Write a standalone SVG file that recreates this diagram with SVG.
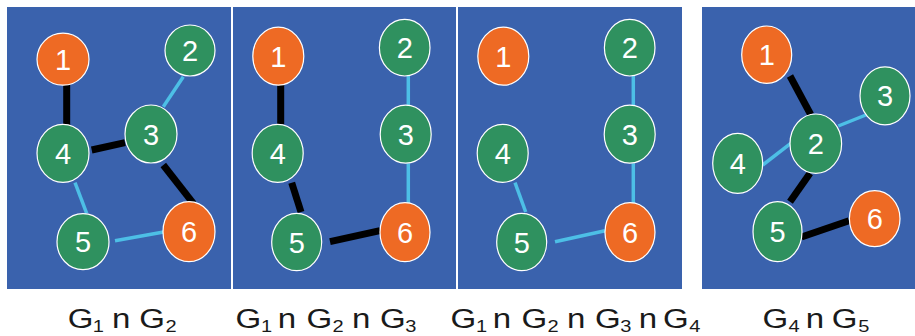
<svg xmlns="http://www.w3.org/2000/svg" width="915" height="336" viewBox="0 0 915 336">
<style>
.panel{fill:#3A62AD}
.o{fill:#EE6A24;stroke:#FFFFFF;stroke-width:1.2}
.g{fill:#2F915F;stroke:#FFFFFF;stroke-width:1.2}
.num{font-family:"Liberation Sans",Arial,sans-serif;font-size:29px;fill:#FFFFFF;text-anchor:middle}
.blk{stroke:#000000;stroke-width:7;fill:none}
.cy{stroke:#4DBFE6;stroke-width:3.5;fill:none}
.lbl{font-family:"Liberation Sans",Arial,sans-serif;font-size:28px;fill:#1A1A1A;text-anchor:middle}
.sub{font-size:17px}
</style>
<rect width="915" height="336" fill="#FFFFFF"/>
<g id="panels">
<rect class="panel" x="7" y="7" width="224" height="282"/>
<rect class="panel" x="233" y="7" width="223" height="282"/>
<rect class="panel" x="458" y="7" width="224" height="282"/>
<rect class="panel" x="702" y="7" width="213" height="282"/>
</g>
<g id="connectors">
<line class="blk" x1="66.7" y1="84" x2="66.7" y2="125"/>
<line class="blk" x1="91.7" y1="150" x2="125" y2="142.7"/>
<line class="blk" x1="163.3" y1="165" x2="193.3" y2="203.3"/>
<line class="cy" x1="183.3" y1="76.7" x2="163.3" y2="106.7"/>
<line class="cy" x1="75" y1="182.7" x2="86.7" y2="213.3"/>
<line class="cy" x1="115" y1="240.7" x2="165" y2="231.7"/>

<line class="blk" x1="280.7" y1="85" x2="280.7" y2="124.5"/>
<line class="blk" x1="291.7" y1="182.7" x2="301" y2="212"/>
<line class="blk" x1="330" y1="241.7" x2="380" y2="230.7"/>
<line class="cy" x1="408.3" y1="76" x2="408.3" y2="105.5"/>
<line class="cy" x1="408.3" y1="163.3" x2="408.3" y2="203.3"/>

<line class="cy" x1="633.3" y1="76" x2="633.3" y2="105.5"/>
<line class="cy" x1="633.3" y1="163.3" x2="633.3" y2="203.3"/>
<line class="cy" x1="515" y1="182.7" x2="525.7" y2="212"/>
<line class="cy" x1="555" y1="241.7" x2="605" y2="230.7"/>

<line class="blk" x1="790" y1="76" x2="810.7" y2="114.5"/>
<line class="blk" x1="810" y1="173.3" x2="790" y2="201.7"/>
<line class="blk" x1="801.5" y1="237" x2="849" y2="220.7"/>
<line class="cy" x1="838.3" y1="126" x2="868.3" y2="114"/>
<line class="cy" x1="762.7" y1="165" x2="791.7" y2="142.7"/>
</g>

<g id="p1-n1"><ellipse class="o" cx="63" cy="59.2" rx="26" ry="26"/><text class="num" x="63" y="69.7">1</text></g>
<g id="p1-n2"><ellipse class="g" cx="190" cy="50.5" rx="25" ry="25.5"/><text class="num" x="190" y="61">2</text></g>
<g id="p1-n3"><ellipse class="g" cx="151" cy="134" rx="26" ry="29"/><text class="num" x="151" y="144.5">3</text></g>
<g id="p1-n4"><ellipse class="g" cx="63" cy="153.3" rx="26" ry="29"/><text class="num" x="63" y="163.8">4</text></g>
<g id="p1-n5"><ellipse class="g" cx="83" cy="241.7" rx="26" ry="28"/><text class="num" x="83" y="252.2">5</text></g>
<g id="p1-n6"><ellipse class="o" cx="189" cy="231.7" rx="26" ry="30"/><text class="num" x="189" y="242.2">6</text></g>

<g id="p2-n1"><ellipse class="o" cx="278.3" cy="56.2" rx="25.5" ry="29"/><text class="num" x="278.3" y="66.7">1</text></g>
<g id="p2-n2"><ellipse class="g" cx="404.7" cy="47.7" rx="25.3" ry="28.3"/><text class="num" x="404.7" y="58.2">2</text></g>
<g id="p2-n3"><ellipse class="g" cx="405.7" cy="134.2" rx="25.5" ry="29"/><text class="num" x="405.7" y="144.7">3</text></g>
<g id="p2-n4"><ellipse class="g" cx="277.7" cy="153.3" rx="25.5" ry="29"/><text class="num" x="277.7" y="163.8">4</text></g>
<g id="p2-n5"><ellipse class="g" cx="296.7" cy="242" rx="25" ry="28.7"/><text class="num" x="296.7" y="252.5">5</text></g>
<g id="p2-n6"><ellipse class="o" cx="405" cy="232.2" rx="25" ry="29.5"/><text class="num" x="405" y="242.7">6</text></g>

<g id="p3-n1"><ellipse class="o" cx="503.3" cy="56.2" rx="25.5" ry="29"/><text class="num" x="503.3" y="66.7">1</text></g>
<g id="p3-n2"><ellipse class="g" cx="629.7" cy="47.7" rx="25.3" ry="28.3"/><text class="num" x="629.7" y="58.2">2</text></g>
<g id="p3-n3"><ellipse class="g" cx="629.7" cy="134.2" rx="25.5" ry="29"/><text class="num" x="629.7" y="144.7">3</text></g>
<g id="p3-n4"><ellipse class="g" cx="502.7" cy="153.3" rx="25.5" ry="29"/><text class="num" x="502.7" y="163.8">4</text></g>
<g id="p3-n5"><ellipse class="g" cx="521.7" cy="242" rx="25" ry="28.7"/><text class="num" x="521.7" y="252.5">5</text></g>
<g id="p3-n6"><ellipse class="o" cx="630" cy="232.2" rx="25" ry="29.5"/><text class="num" x="630" y="242.7">6</text></g>

<g id="p4-n1"><ellipse class="o" cx="766.7" cy="54.7" rx="25" ry="28.7"/><text class="num" x="766.7" y="65.2">1</text></g>
<g id="p4-n2"><ellipse class="g" cx="815.8" cy="143.7" rx="25.8" ry="29.7"/><text class="num" x="815.8" y="154.2">2</text></g>
<g id="p4-n3"><ellipse class="g" cx="885" cy="95.8" rx="25" ry="29"/><text class="num" x="885" y="106.3">3</text></g>
<g id="p4-n4"><ellipse class="g" cx="737.7" cy="163.3" rx="25" ry="30"/><text class="num" x="737.7" y="173.8">4</text></g>
<g id="p4-n5"><ellipse class="g" cx="777.5" cy="231.7" rx="24.5" ry="30"/><text class="num" x="777.5" y="242.2">5</text></g>
<g id="p4-n6"><ellipse class="o" cx="874.7" cy="218.7" rx="25.3" ry="28"/><text class="num" x="874.7" y="229.2">6</text></g>

<g id="labels">
<text class="lbl" transform="translate(80.7,328) scale(1.18,1)"><tspan x="0" y="0">G</tspan><tspan class="sub" x="15" y="3.5">1</tspan><tspan x="34.4" y="0">n</tspan><tspan x="60.5" y="0">G</tspan><tspan class="sub" x="76.7" y="3.5">2</tspan></text>
<text class="lbl" transform="translate(248.3,328) scale(1.18,1)"><tspan x="0" y="0">G</tspan><tspan class="sub" x="15.6" y="3.5">1</tspan><tspan x="32.8" y="0">n</tspan><tspan x="60.3" y="0">G</tspan><tspan class="sub" x="76" y="3.5">2</tspan><tspan x="95.7" y="0">n</tspan><tspan x="122.5" y="0">G</tspan><tspan class="sub" x="137.7" y="3.5">3</tspan></text>
<text class="lbl" transform="translate(463.3,328) scale(1.18,1)"><tspan x="0" y="0">G</tspan><tspan class="sub" x="15.6" y="3.5">1</tspan><tspan x="32.8" y="0">n</tspan><tspan x="60.3" y="0">G</tspan><tspan class="sub" x="76" y="3.5">2</tspan><tspan x="95.7" y="0">n</tspan><tspan x="122.5" y="0">G</tspan><tspan class="sub" x="137.7" y="3.5">3</tspan><tspan x="156.5" y="0">n</tspan><tspan x="180.1" y="0">G</tspan><tspan class="sub" x="196.2" y="3.5">4</tspan></text>
<text class="lbl" transform="translate(775.3,328) scale(1.18,1)"><tspan x="0" y="0">G</tspan><tspan class="sub" x="16" y="3.5">4</tspan><tspan x="33.6" y="0">n</tspan><tspan x="58.8" y="0">G</tspan><tspan class="sub" x="75" y="3.5">5</tspan></text>
</g>
</svg>
